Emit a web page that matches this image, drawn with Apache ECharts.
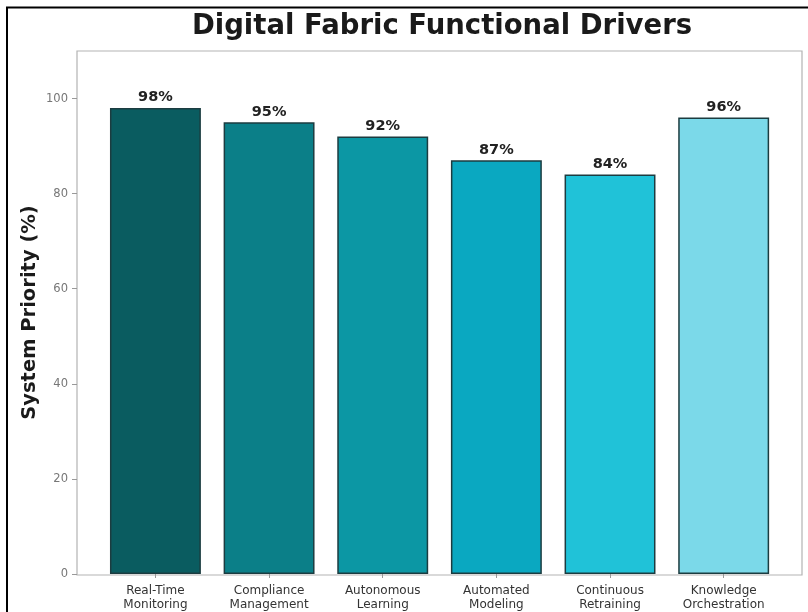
<!DOCTYPE html>
<html>
<head>
<meta charset="utf-8">
<script src="https://cdn.jsdelivr.net/npm/echarts@6/dist/echarts.min.js"></script>
<style>
  html, body { margin: 0; padding: 0; background: #ffffff; }
  #chart { width: 808px; height: 612px; }
</style>
</head>
<body>
<div id="chart"></div>
<script>
// Functional drivers and their system priority scores (%)
const categories = [
  'Real-Time\nMonitoring',
  'Compliance\nManagement',
  'Autonomous\nLearning',
  'Automated\nModeling',
  'Continuous\nRetraining',
  'Knowledge\nOrchestration'
];
const priorities = [98, 95, 92, 87, 84, 96];
const barColors = ['#0a5c60', '#0b7f88', '#0c97a4', '#0aa8c1', '#20c2d8', '#7bd9e9'];
const yTicks = [0, 20, 40, 60, 80, 100];

const chart = echarts.init(document.getElementById('chart'), null, { renderer: 'canvas' });

chart.setOption({
  backgroundColor: '#ffffff',
  animation: false,
  title: {
    text: 'Digital Fabric Functional Drivers',
    left: 437,
    textAlign: 'center',
    top: 8,
    textStyle: { fontFamily: 'DejaVu Sans', fontWeight: 'bold', fontSize: 27.5, color: '#1a1a1a' }
  },
  grid: [
    // bars
    { left: 98.6, right: 27.5, top: 51, bottom: 37 },
    // axes frame
    { left: 77, right: 6, top: 51, bottom: 37, show: true, borderColor: '#b3b3b3', borderWidth: 1.2, backgroundColor: 'transparent' }
  ],
  xAxis: [
    {
      type: 'category',
      gridIndex: 0,
      data: categories,
      axisLine: { show: false },
      axisTick: { show: true, alignWithLabel: true, length: 4, lineStyle: { color: '#999' } },
      axisLabel: { fontFamily: 'DejaVu Sans', fontSize: 12, color: '#333', lineHeight: 14, margin: 10 }
    },
    { type: 'value', gridIndex: 1, show: false, min: 0, max: 1 }
  ],
  yAxis: [
    {
      type: 'value',
      gridIndex: 0,
      min: 0,
      max: 110,
      interval: 20,
      offset: 21.6,
      name: 'System Priority (%)',
      nameLocation: 'middle',
      nameGap: 37,
      nameRotate: 90,
      nameMoveOverlap: false,
      nameTextStyle: { fontFamily: 'DejaVu Sans', fontWeight: 'bold', fontSize: 19.5, color: '#1a1a1a' },
      axisLine: { show: false },
      axisTick: { show: true, length: 5, customValues: yTicks, lineStyle: { color: '#999' } },
      splitLine: { show: false },
      axisLabel: {
        fontFamily: 'DejaVu Sans', fontSize: 11.5, color: '#777', margin: 9,
        customValues: yTicks
      }
    },
    { type: 'value', gridIndex: 1, show: false, min: 0, max: 1 }
  ],
  series: [
    {
      type: 'bar',
      xAxisIndex: 0,
      yAxisIndex: 0,
      barWidth: '80%',
      data: priorities.map((v, i) => ({
        value: v,
        itemStyle: { color: barColors[i], borderColor: '#1c3c40', borderWidth: 1.5 }
      })),
      label: {
        show: true,
        position: 'top',
        distance: 3,
        formatter: p => p.value + '%',
        fontFamily: 'DejaVu Sans',
        fontWeight: 'bold',
        fontSize: 14.5,
        color: '#222'
      }
    }
  ],
  graphic: [
    { type: 'line', shape: { x1: 6, y1: 7.5, x2: 808, y2: 7.5 }, style: { stroke: '#000', lineWidth: 2 } },
    { type: 'line', shape: { x1: 7, y1: 7, x2: 7, y2: 612 }, style: { stroke: '#000', lineWidth: 2 } }
  ]
});
</script>
</body>
</html>
